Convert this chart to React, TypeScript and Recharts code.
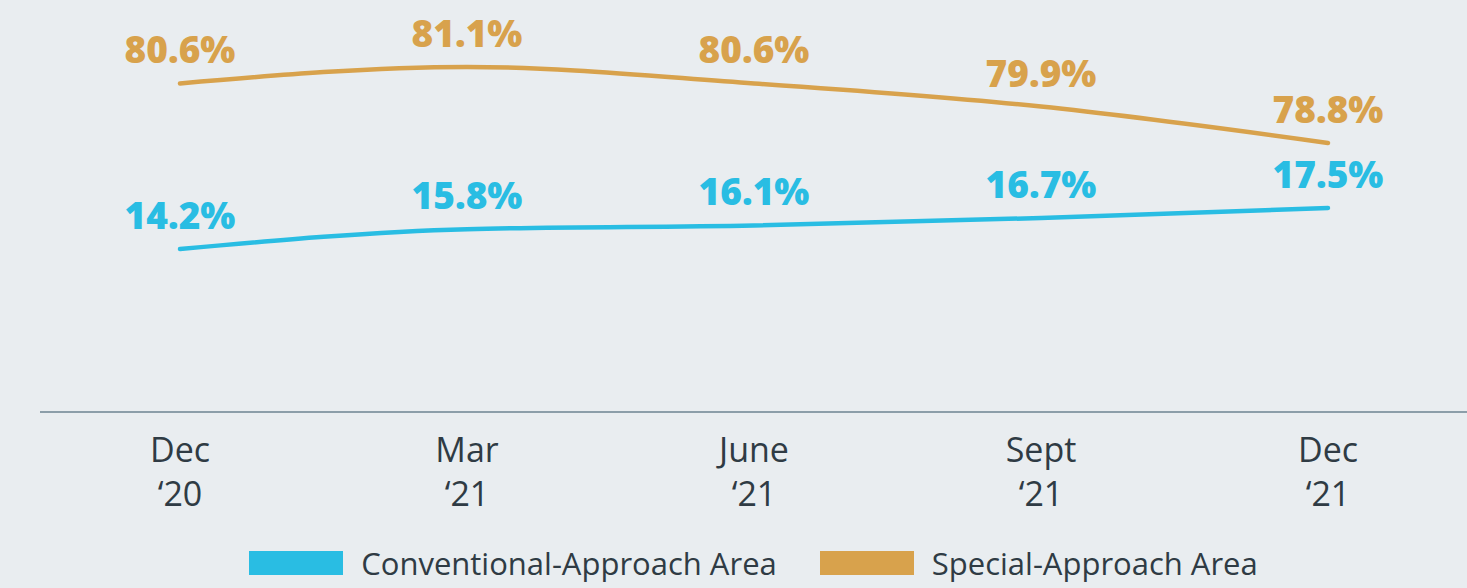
import { CartesianGrid, LabelList, Legend, Line, LineChart, XAxis, YAxis } from 'recharts';

const periods = ['Dec ‘20', 'Mar ‘21', 'June ‘21', 'Sept ‘21', 'Dec ‘21'];
const conventional = [14.2, 15.8, 16.1, 16.7, 17.5];
const special = [80.6, 81.1, 80.6, 79.9, 78.8];

const seriesNames = ['Conventional-Approach Area', 'Special-Approach Area'];

const BLUE = '#29BDE3';
const GOLD = '#D8A24C';
const INK = '#2F3B44';

const data = periods.map((period, i) => ({
  period,
  conventional: conventional[i],
  special: special[i],
}));

function PeriodTick({ x, y, payload }: any) {
  const [month, year] = String(payload.value).split(' ');
  return (
    <text x={x} y={y} textAnchor="middle" fill={INK} fontSize={34} fontFamily="'Open Sans', sans-serif">
      <tspan x={x} dy={50}>{month}</tspan>
      <tspan x={x} dy={44}>{year}</tspan>
    </text>
  );
}

function LegendBox() {
  const items = [
    { name: seriesNames[0], color: BLUE },
    { name: seriesNames[1], color: GOLD },
  ];
  return (
    <div style={{ height: 50, display: 'flex', alignItems: 'center', justifyContent: 'center', gap: 43 }}>
      {items.map((item) => (
        <div key={item.name} style={{ display: 'flex', alignItems: 'center' }}>
          <span style={{ width: 94, height: 24, background: item.color, display: 'inline-block', marginRight: 18 }} />
          <span style={{ fontFamily: "'Open Sans', sans-serif", fontSize: 31, color: INK, lineHeight: '50px' }}>{item.name}</span>
        </div>
      ))}
    </div>
  );
}

export default function App() {
  return (
    <div style={{ width: 1467, height: 588, background: '#E9EDF0' }}>
      <style>{'body{margin:0}'}</style>
      <LineChart width={1467} height={588} data={data} margin={{ top: 20, right: 0, left: 40, bottom: 0 }}>
        <CartesianGrid stroke="none" />
        <XAxis
          dataKey="period"
          height={126}
          padding={{ left: 140, right: 139 }}
          axisLine={{ stroke: '#8C9EA9', strokeWidth: 2 }}
          tickLine={false}
          tickSize={0}
          tickMargin={0}
          interval={0}
          tick={<PeriodTick />}
        />
        <YAxis yAxisId="conv" hide domain={[1.08, 32.64]} />
        <YAxis yAxisId="spec" hide domain={[70.66, 82.52]} />
        <Legend verticalAlign="bottom" content={<LegendBox />} />
        <Line
          yAxisId="spec"
          type="monotone"
          dataKey="special"
          name={seriesNames[1]}
          stroke={GOLD}
          strokeWidth={4.5}
          strokeLinecap="round"
          dot={false}
          isAnimationActive={false}
        >
          <LabelList
            dataKey="special"
            position="top"
            offset={20}
            fill={GOLD}
            fontSize={37}
            fontWeight={800}
            fontFamily="'Open Sans', sans-serif"
            formatter={(v: any) => `${v}%`}
          />
        </Line>
        <Line
          yAxisId="conv"
          type="monotone"
          dataKey="conventional"
          name={seriesNames[0]}
          stroke={BLUE}
          strokeWidth={4.5}
          strokeLinecap="round"
          dot={false}
          isAnimationActive={false}
        >
          <LabelList
            dataKey="conventional"
            position="top"
            offset={20}
            fill={BLUE}
            fontSize={37}
            fontWeight={800}
            fontFamily="'Open Sans', sans-serif"
            formatter={(v: any) => `${v}%`}
          />
        </Line>
      </LineChart>
    </div>
  );
}
